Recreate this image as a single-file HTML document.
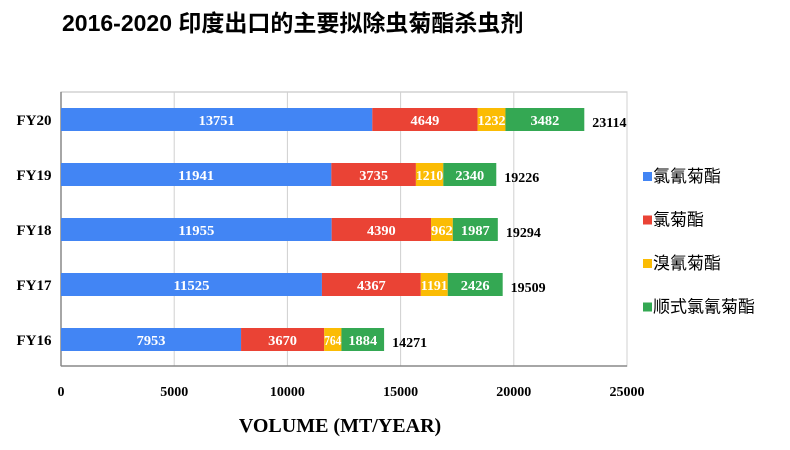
<!DOCTYPE html>
<html><head><meta charset="utf-8"><style>
body{margin:0;background:#fff;width:790px;height:445px;overflow:hidden}
svg text{font-family:"Liberation Serif",serif;font-weight:bold}
</style></head><body>
<svg width="790" height="445">
<text x="62" y="31" style="font-family:'Liberation Sans','Noto Sans CJK SC',sans-serif;font-size:23px;font-weight:bold" fill="#000">2016-2020 印度出口的主要拟除虫菊酯杀虫剂</text>
<g id="plot"></g>
</svg>
<script>
const categories=["FY20","FY19","FY18","FY17","FY16"];
const s1=[13751,11941,11955,11525,7953];
const s2=[4649,3735,4390,4367,3670];
const s3=[1232,1210,962,1191,764];
const s4=[3482,2340,1987,2426,1884];
const totals=[23114,19226,19294,19509,14271];
const ticks=[0,5000,10000,15000,20000,25000];
const seriesNames=["氯氰菊酯","氯菊酯","溴氰菊酯","顺式氯氰菊酯"];
const colors=["#4285f4","#ea4335","#fbbc04","#34a853"];
const ns="http://www.w3.org/2000/svg";
const plotG=document.getElementById('plot');
const X0=61,X1=627,Y0=92,Y1=366,XMAX=25000;
const xs=v=>X0+(X1-X0)*v/XMAX;
const bandY=i=>108+i*55;
const BH=23;
function mk(t,a,txt){const e=document.createElementNS(ns,t);for(const k in a)e.setAttribute(k,a[k]);if(txt!=null)e.textContent=txt;plotG.appendChild(e);return e;}
let fr=mk('rect',{x:X0,y:Y0,width:X1-X0,height:Y1-Y0,fill:'none',stroke:'#bbb'});


ticks.forEach(t=>{
  let l=mk('line',{x1:xs(t),x2:xs(t),y1:Y0,y2:Y1,stroke:'#d0d0d0'});
  
  
  let tx=mk('text',{x:xs(t),y:396,'text-anchor':'middle','font-size':14},t);
  
  
});
let ax=mk('line',{x1:X0,x2:X1,y1:Y1,y2:Y1,stroke:'#888','stroke-width':1.5});


let ay=mk('line',{x1:X0,x2:X0,y1:Y0,y2:Y1,stroke:'#888','stroke-width':1.5});


const series=[s1,s2,s3,s4];
categories.forEach((c,i)=>{
  const y=bandY(i);
  let cl=mk('text',{x:34,y:y+17,'text-anchor':'middle','font-size':15},c);
  
  
  let acc=0;
  series.forEach((s,k)=>{
    const v=s[i];
    let b=mk('rect',{x:xs(acc),y:y,width:xs(acc+v)-xs(acc),height:BH,fill:colors[k]});
    
    
    let t=mk('text',{x:(xs(acc)+xs(acc+v))/2,y:y+17,'text-anchor':'middle','font-size':14,fill:'#fff',textLength:Math.min(String(v).length*7.2,xs(acc+v)-xs(acc)),lengthAdjust:'spacingAndGlyphs'},v);
    
    
    acc+=v;
  });
  let tt=mk('text',{x:xs(acc)+8,y:y+19,'font-size':14},totals[i]);
  
  
});
let at=mk('text',{x:340,y:432,'text-anchor':'middle','font-size':20},'VOLUME (MT/YEAR)');


seriesNames.forEach((n,k)=>{
  const y=182+k*43.5;
  let sq=mk('rect',{x:643,y:y-10,width:9,height:9,fill:colors[k]});
  
  
  let lt=mk('text',{x:653,y:y,'font-size':17,style:"font-family:'Liberation Sans','Noto Sans CJK SC',sans-serif;font-weight:normal"},n);
  
  
});
</script>
</body></html>
